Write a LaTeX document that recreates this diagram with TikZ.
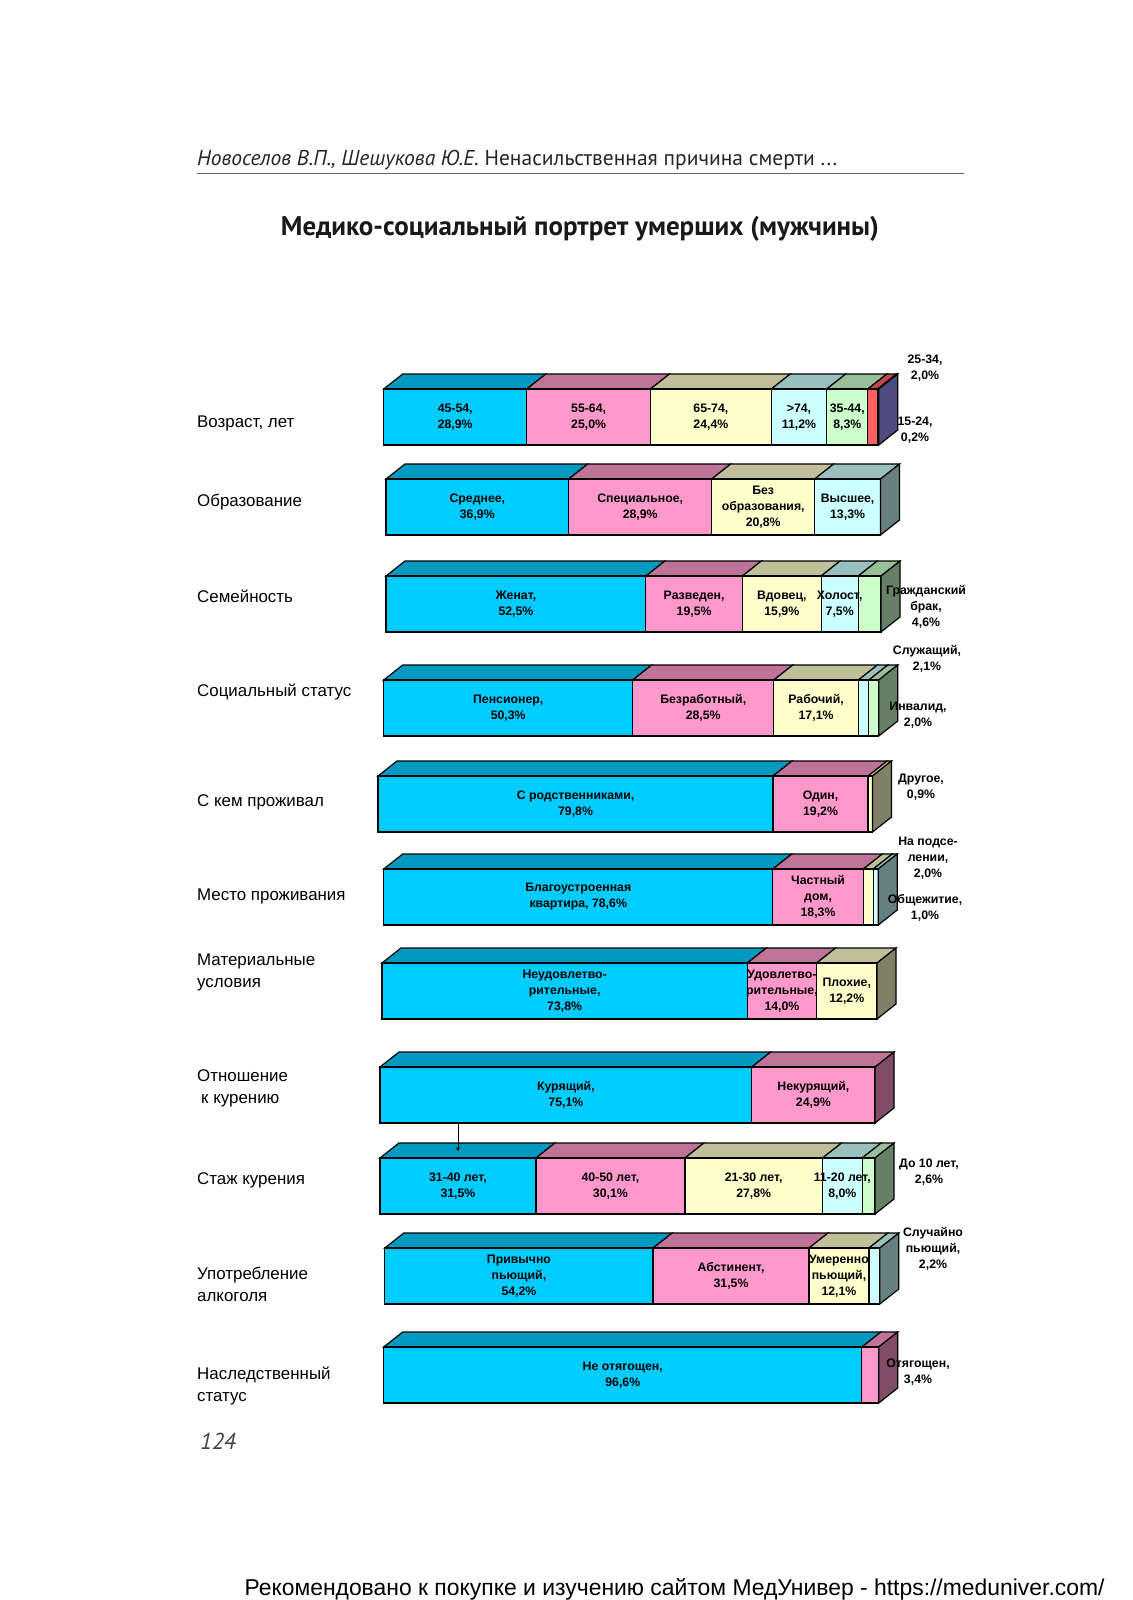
\documentclass[tikz,border=0pt]{standalone}
\usepackage{fontspec}
\setmainfont{Liberation Sans}
\newfontfamily\ptsans{PT Sans}

\definecolor{cyanS}{HTML}{00CCFF}
\definecolor{pinkS}{HTML}{FF99CC}
\definecolor{yelS}{HTML}{FFFFCC}
\definecolor{lcyS}{HTML}{CCFFFF}
\definecolor{lgrS}{HTML}{CCFFCC}
\definecolor{redS}{HTML}{FF6060}
\definecolor{perS}{HTML}{9999FF}

\def\pctw{4.95}
\def\bardx{19}
\def\bardy{15}
\def\barh{56}

% #1 name, #2 left x, #3 front top y, #4 list pct/colour/text
\newcommand{\stackbar}[4]{%
  \xdef\acc{0}%
  \foreach \segp/\segc/\segt in {#4} {
    \pgfmathsetmacro\xa{#2+\acc*\pctw}
    \pgfmathsetmacro\xb{#2+(\acc+\segp)*\pctw}
    \filldraw[face, fill=\segc!75!black] (\xa,#3) -- (\xa+\bardx,#3-\bardy) -- (\xb+\bardx,#3-\bardy) -- (\xb,#3) -- cycle;
    \filldraw[face, fill=\segc] (\xa,#3) rectangle (\xb,#3+\barh);
    \pgfmathsetmacro\nacc{\acc+\segp}
    \xdef\acc{\nacc}
    \xdef\lastc{\segc}
    \xdef\xend{\xb}
  }
  \filldraw[face, fill=\lastc!50!black] (\xend,#3) -- (\xend+\bardx,#3-\bardy) -- (\xend+\bardx,#3+\barh-\bardy) -- (\xend,#3+\barh) -- cycle;
  \xdef\acc{0}%
  \foreach \segp/\segc/\segt [count=\i] in {#4} {
    \pgfmathsetmacro\xm{#2+(\acc+\segp/2)*\pctw}
    \node[seglabel] (#1-\i) at (\xm,#3+\barh/2) {\segt};
    \pgfmathsetmacro\nacc{\acc+\segp}
    \xdef\acc{\nacc}
  }
}

\begin{document}
\begin{tikzpicture}[x=1pt,y=-1pt,
  face/.style={draw=black, line width=1.2pt},
  seglabel/.style={align=center, inner sep=0pt, font=\bfseries\fontsize{12.3}{16}\selectfont},
  outlabel/.style={align=center, inner sep=0pt, font=\bfseries\fontsize{12.3}{16}\selectfont},
  catlabel/.style={anchor=west, align=left, inner sep=0pt, font=\fontsize{16.9}{22}\selectfont}]

  \fill[white] (0,0) rectangle (1132,1600);
  \useasboundingbox (0,0) rectangle (1132,1600);

  % page head
  \node[anchor=west, inner sep=0pt, text=black!85, font=\ptsans\fontsize{21.5}{24}\selectfont] (head) at (197,160)
    {\itshape Новоселов В.П., Шешукова Ю.Е.\upshape\ Ненасильственная причина смерти ...};
  \draw[black!60, line width=1pt] (197,173) -- (964,173);
  \node[font=\ptsans\bfseries\fontsize{27}{30}\selectfont, text=black!90] (title) at (580,229)
    {Медико-социальный портрет умерших (мужчины)};

  % categories
  \node[catlabel] (cat-age) at (197,423) {Возраст, лет};
  \node[catlabel] (cat-edu) at (197,502) {Образование};
  \node[catlabel] (cat-fam) at (197,596) {Семейность};
  \node[catlabel] (cat-soc) at (197,692) {Социальный статус};
  \node[catlabel] (cat-live) at (197,802) {С кем проживал};
  \node[catlabel] (cat-place) at (197,896) {Место проживания};
  \node[catlabel] (cat-mat) at (197,972) {Материальные\\условия};
  \node[catlabel] (cat-smk) at (197,1088) {Отношение\\\hspace{4pt}к курению};
  \node[catlabel] (cat-exp) at (197,1180) {Стаж курения};
  \node[catlabel] (cat-alc) at (197,1284) {Употребление\\алкоголя};
  \node[catlabel] (cat-her) at (197,1386) {Наследственный\\статус};

  % bars
  \stackbar{age}{383.7}{389}{28.9/cyanS/{45-54,\\28,9\%}, 25.0/pinkS/{55-64,\\25,0\%},
    24.4/yelS/{65-74,\\24,4\%}, 11.2/lcyS/{>74,\\11,2\%}, 8.3/lgrS/{35-44,\\8,3\%},
    2.0/redS/{}, 0.2/perS/{}}
  \stackbar{edu}{386}{479}{36.9/cyanS/{Среднее,\\36,9\%}, 28.9/pinkS/{Специальное,\\28,9\%},
    20.8/yelS/{Без\\образования,\\20,8\%}, 13.3/lcyS/{Высшее,\\13,3\%}}
  \stackbar{fam}{386}{576}{52.5/cyanS/{Женат,\\52,5\%}, 19.5/pinkS/{Разведен,\\19,5\%},
    15.9/yelS/{Вдовец,\\15,9\%}, 7.5/lcyS/{Холост,\\7,5\%}, 4.6/lgrS/{}}
  \stackbar{soc}{383.7}{680}{50.3/cyanS/{Пенсионер,\\50,3\%}, 28.5/pinkS/{Безработный,\\28,5\%},
    17.1/yelS/{Рабочий,\\17,1\%}, 2.1/lcyS/{}, 2.0/lgrS/{}}
  \stackbar{live}{378}{776}{79.8/cyanS/{С родственниками,\\79,8\%}, 19.2/pinkS/{Один,\\19,2\%},
    0.9/yelS/{}}
  \stackbar{place}{383.7}{869}{78.6/cyanS/{Благоустроенная\\квартира, 78,6\%},
    18.3/pinkS/{Частный\\дом,\\18,3\%}, 2.0/yelS/{}, 1.0/lcyS/{}}
  \stackbar{mat}{382}{963}{73.8/cyanS/{Неудовлетво-\\рительные,\\73,8\%},
    14.0/pinkS/{Удовлетво-\\рительные,\\14,0\%}, 12.2/yelS/{Плохие,\\12,2\%}}
  \stackbar{smk}{380}{1067}{75.1/cyanS/{Курящий,\\75,1\%}, 24.9/pinkS/{Некурящий,\\24,9\%}}
  \stackbar{exp}{380}{1158}{31.5/cyanS/{31-40 лет,\\31,5\%}, 30.1/pinkS/{40-50 лет,\\30,1\%},
    27.8/yelS/{21-30 лет,\\27,8\%}, 8.0/lcyS/{11-20 лет,\\8,0\%}, 2.6/lgrS/{}}
  \stackbar{alc}{384.8}{1248}{54.2/cyanS/{Привычно\\пьющий,\\54,2\%}, 31.5/pinkS/{Абстинент,\\31,5\%},
    12.1/yelS/{Умеренно\\пьющий,\\12,1\%}, 2.2/lcyS/{}}
  \stackbar{her}{383.7}{1347}{96.6/cyanS/{Не отягощен,\\96,6\%}, 3.4/pinkS/{}}

  % labels beside the bars
  \node[outlabel] (age-out1) at (925,368.5) {25-34,\\2,0\%};
  \node[outlabel] (age-out2) at (915,430.5) {15-24,\\0,2\%};
  \node[outlabel] (fam-out) at (926,606.5) {Гражданский\\брак,\\4,6\%};
  \node[outlabel] (soc-out1) at (927,658.5) {Служащий,\\2,1\%};
  \node[outlabel] (soc-out2) at (918,715.5) {Инвалид,\\2,0\%};
  \node[outlabel] (live-out) at (921,787) {Другое,\\0,9\%};
  \node[outlabel] (place-out1) at (928,858.5) {На подсе-\\лении,\\2,0\%};
  \node[outlabel] (place-out2) at (925,907.5) {Общежитие,\\1,0\%};
  \node[outlabel] (exp-out) at (929,1172) {До 10 лет,\\2,6\%};
  \node[outlabel] (alc-out) at (933,1249) {Случайно\\пьющий,\\2,2\%};
  \node[outlabel] (her-out) at (918,1372.5) {Отягощен,\\3,4\%};

  % smokers -> smoking length
  \coordinate (smk-foot) at (458,1123);
  \coordinate (exp-head) at (458,1151);
  \draw[line width=0.8pt,-stealth] (smk-foot) -- (exp-head);

  \node[font=\ptsans\itshape\fontsize{23}{26}\selectfont, text=black!75] (pagenum) at (218,1441) {124};
  \node[font=\fontsize{22.9}{26}\selectfont] (foot) at (674.5,1589)
    {Рекомендовано к покупке и изучению сайтом МедУнивер - https://meduniver.com/};
\end{tikzpicture}
\end{document}
